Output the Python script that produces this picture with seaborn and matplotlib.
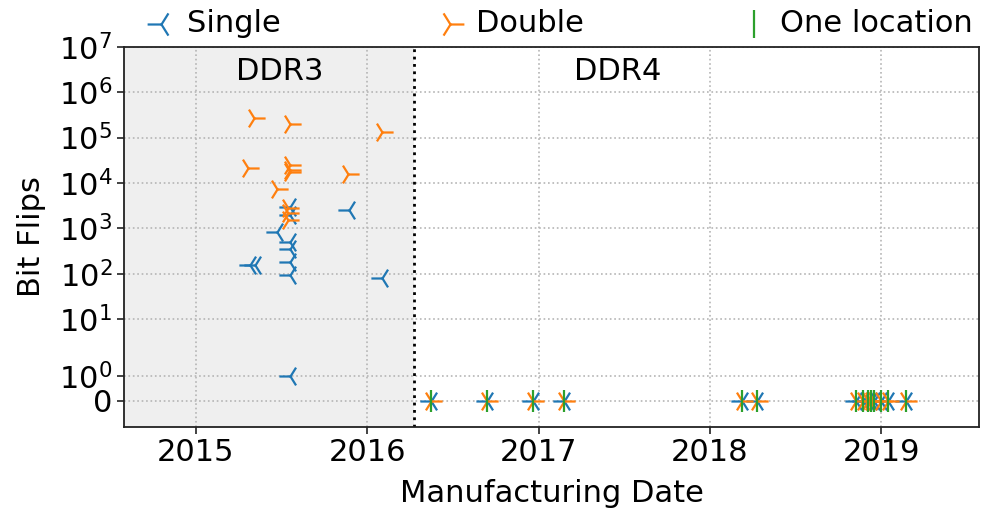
import numpy as np
import matplotlib
matplotlib.use("Agg")
import matplotlib.pyplot as plt
import matplotlib.transforms as mtransforms
import seaborn as sns

# DDR3 modules: manufacturing date (decimal year) and number of bit flips
ddr3_single_dates = [2015.548, 2015.548, 2015.894, 2015.471, 2015.548, 2015.548,
                     2015.548, 2015.548, 2015.315, 2015.344, 2016.083, 2015.548]
ddr3_single_flips = [3000, 2000, 2500, 810, 510, 350, 185, 94, 156, 156, 80, 1]

ddr3_double_dates = [2015.338, 2015.548, 2016.083, 2015.305, 2015.548, 2015.548,
                     2015.548, 2015.888, 2015.471, 2015.538, 2015.538, 2015.538]
ddr3_double_flips = [270000, 200000, 130000, 21000, 25000, 19500,
                     17000, 16000, 7300, 2800, 2200, 1500]

# DDR4 modules: no flips of any kind
ddr4_dates = [2016.373, 2016.701, 2016.966, 2017.150, 2018.185, 2018.273,
              2018.852, 2018.891, 2018.920, 2018.940, 2018.959, 2018.998,
              2019.037, 2019.144]
ddr4_flips = [0] * len(ddr4_dates)

year_ticks = [2015, 2016, 2017, 2018, 2019]
flip_ticks = [0, 1, 10, 100, 1000, 10000, 100000, 1000000, 10000000]
flip_labels = ["0"] + [f"$10^{{{k}}}$" for k in range(8)]

DDR4_START = 2016.27
X_MIN, X_MAX = 2014.58, 2019.57

# Log axis with a short linear stretch holding the zero row
Y_ZERO, Y_ONE = -0.804, -0.258


def fwd(y):
    y = np.asarray(y, dtype=float)
    safe = np.where(y > 0, y, 1.0)
    lg = np.log10(safe)
    lin = Y_ZERO + (Y_ONE - Y_ZERO) * y
    mid = Y_ONE + (1 - Y_ONE) * lg
    return np.where(y < 1, lin, np.where(y < 10, mid, lg))


def inv(t):
    t = np.asarray(t, dtype=float)
    lin = (t - Y_ZERO) / (Y_ONE - Y_ZERO)
    mid = 10 ** np.clip((t - Y_ONE) / (1 - Y_ONE), -300, 300)
    top = 10 ** np.clip(t, -300, 300)
    return np.where(t < Y_ONE, lin, np.where(t < 1, mid, top))


sns.set_theme(style="ticks")
plt.rcParams["font.family"] = ["DejaVu Sans"]
plt.rcParams["mathtext.fontset"] = "dejavusans"
plt.rcParams["text.color"] = "black"
plt.rcParams["axes.labelcolor"] = "black"
plt.rcParams["xtick.color"] = "black"
plt.rcParams["ytick.color"] = "black"

fig = plt.figure(figsize=(9.85, 5.11), dpi=100)
ax = fig.add_axes([0.1259, 0.165, 0.868, 0.7436])

blue, orange, green = "#1f77b4", "#ff7f0e", "#2ca02c"
ms = 16 ** 2
lw = 1.6

ax.axvspan(X_MIN, DDR4_START, color="#efefef", zorder=0, lw=0)
ax.axvline(DDR4_START, color="black", ls=":", lw=2, zorder=1)

sns.scatterplot(x=ddr3_single_dates + ddr4_dates, y=ddr3_single_flips + ddr4_flips,
                marker="3", s=ms, color=blue, linewidth=lw, label="Single",
                ax=ax, zorder=3)
sns.scatterplot(x=ddr3_double_dates + ddr4_dates, y=ddr3_double_flips + ddr4_flips,
                marker="4", s=ms, color=orange, linewidth=lw, label="Double",
                ax=ax, zorder=3)
sns.scatterplot(x=ddr4_dates, y=ddr4_flips,
                marker="|", s=ms, color=green, linewidth=lw, label="One location",
                ax=ax, zorder=3)

ax.set_yscale("function", functions=(fwd, inv))
ax.set_ylim(float(inv(-1.37)), 1e7)
ax.set_xlim(X_MIN, X_MAX)
ax.set_yticks(flip_ticks)
ax.set_yticklabels(flip_labels)
ax.set_xticks(year_ticks)
ax.set_xticklabels([str(y) for y in year_ticks])
ax.minorticks_off()

ax.set_axisbelow(True)
ax.grid(True, linestyle=":", color="#b5b5b5", linewidth=1.2)
for sp in ax.spines.values():
    sp.set_color("#222222")
    sp.set_linewidth(1.3)
ax.tick_params(axis="both", labelsize=22, length=5, width=1.2, color="#222222")

ax.set_xlabel("Manufacturing Date", fontsize=22, labelpad=8)
ax.set_ylabel("Bit Flips", fontsize=22, labelpad=9)

trans = mtransforms.blended_transform_factory(ax.transData, ax.transAxes)
ax.text(2015.49, 0.934, "DDR3", transform=trans, ha="center", va="center", fontsize=22)
ax.text(2017.46, 0.934, "DDR4", transform=trans, ha="center", va="center", fontsize=22)

ax.legend(loc="lower center", bbox_to_anchor=(0.508, 1.0), ncol=3, frameon=False,
          fontsize=22, handlelength=1.1, handletextpad=0.3, columnspacing=5.0,
          borderaxespad=0.0, borderpad=0.3, markerscale=1.25)

fig.savefig("out.png", dpi=100)
